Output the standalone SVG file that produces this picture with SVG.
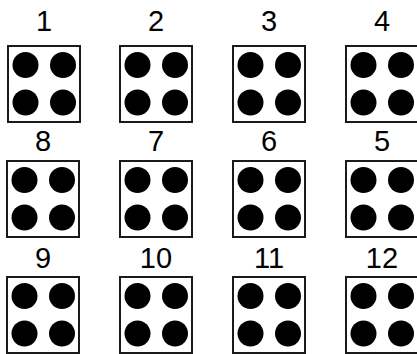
<svg xmlns="http://www.w3.org/2000/svg" xmlns:xlink="http://www.w3.org/1999/xlink" width="417" height="354" viewBox="0 0 417 354">
<style>
.box{fill:#fff;stroke:#1a1a1a;stroke-width:2}
.dot{fill:#000}
.lbl{font-family:"Liberation Sans",Arial,sans-serif;font-size:29px;fill:#000;text-anchor:middle}
</style>
<defs>
<g id="cell">
<rect class="box" x="0" y="0" width="72" height="76"/>
<circle class="dot" cx="17.5" cy="19" r="13"/>
<circle class="dot" cx="55" cy="19" r="13"/>
<circle class="dot" cx="17.5" cy="56.5" r="13"/>
<circle class="dot" cx="55" cy="56.5" r="13"/>
</g>
</defs>
<rect width="417" height="354" fill="#fff"/>
<g id="n1"><use xlink:href="#cell" x="8" y="46"/><text class="lbl" x="44" y="31">1</text></g>
<g id="n2"><use xlink:href="#cell" x="120" y="46"/><text class="lbl" x="156" y="31">2</text></g>
<g id="n3"><use xlink:href="#cell" x="233" y="46"/><text class="lbl" x="269" y="31">3</text></g>
<g id="n4"><use xlink:href="#cell" x="346" y="46"/><text class="lbl" x="382" y="31">4</text></g>
<g id="n8"><use xlink:href="#cell" x="7" y="161"/><text class="lbl" x="43" y="151">8</text></g>
<g id="n7"><use xlink:href="#cell" x="120" y="161"/><text class="lbl" x="156" y="151">7</text></g>
<g id="n6"><use xlink:href="#cell" x="233" y="161"/><text class="lbl" x="269" y="151">6</text></g>
<g id="n5"><use xlink:href="#cell" x="346" y="161"/><text class="lbl" x="382" y="151">5</text></g>
<g id="n9"><use xlink:href="#cell" x="7" y="277"/><text class="lbl" x="43" y="268">9</text></g>
<g id="n10"><use xlink:href="#cell" x="120" y="277"/><text class="lbl" x="156" y="268">10</text></g>
<g id="n11"><use xlink:href="#cell" x="233" y="277"/><text class="lbl" x="269" y="268">11</text></g>
<g id="n12"><use xlink:href="#cell" x="346" y="277"/><text class="lbl" x="382" y="268">12</text></g>
<g id="connectors"/>
</svg>
